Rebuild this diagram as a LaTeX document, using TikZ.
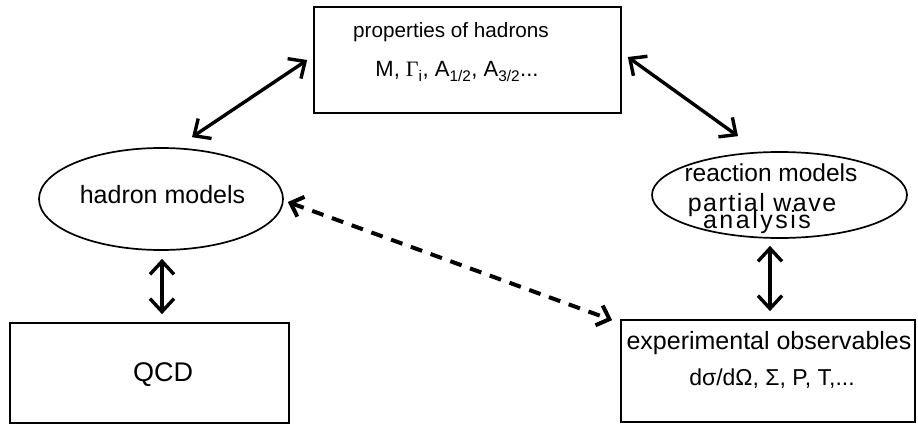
\documentclass[tikz,border=0pt]{standalone}
\usepackage{fontspec}
\setmainfont{Liberation Sans}
\newfontfamily\serifgreek{Liberation Serif}
\usetikzlibrary{arrows.meta,shapes.geometric}
\begin{document}
\begin{tikzpicture}[x=1pt,y=-1pt,
  box/.style={draw,line width=1.7pt,rectangle,inner sep=0pt},
  oval/.style={draw,line width=1.7pt,ellipse,inner sep=0pt},
  txt/.style={inner sep=0pt,anchor=base},
  dbl/.style={line width=3.4pt,{Straight Barb[length=13pt,width=24pt]}-{Straight Barb[length=13pt,width=24pt]}},
  dsh/.style={line width=4pt,dash pattern=on 12pt off 9pt,{Straight Barb[length=11pt,width=21pt]}-{Straight Barb[length=11pt,width=21pt]}}
]
\useasboundingbox (0,0) rectangle (918,425);
% shapes
\node[box,minimum width=307pt,minimum height=106pt] (props) at (467.5,60) {};
\node[oval,minimum width=244pt,minimum height=102pt] (hm) at (161,199) {};
\node[oval,minimum width=255pt,minimum height=86pt] (rm) at (779.5,195) {};
\node[box,minimum width=279pt,minimum height=100pt] (qcd) at (149.5,373) {};
\node[box,minimum width=294pt,minimum height=102pt] (exp) at (768,371) {};
% texts
\node[txt,font=\fontsize{20.7}{24}\selectfont] (propsA) at (451,38) {properties of hadrons};
\node[txt,font=\fontsize{22}{26}\selectfont] (propsB) at (457,77) {M, {\serifgreek Γ}\textsubscript{i}, A\textsubscript{1/2}, A\textsubscript{3/2}...};
\node[txt,font=\fontsize{25}{30}\selectfont] (hmA) at (162.5,203.5) {hadron models};
\node[txt,font=\fontsize{27}{32}\selectfont] (qcdA) at (163,381.5) {QCD};
\node[txt,font=\fontsize{24.5}{30}\selectfont] (rmA) at (771,181) {reaction models};
\node[txt,font=\fontsize{25}{30}\selectfont\addfontfeatures{LetterSpace=6}] (rmB) at (762,211.5) {partial wave};
\node[txt,font=\fontsize{25}{30}\selectfont\addfontfeatures{LetterSpace=10}] (rmC) at (757,228) {analysis};
\node[txt,font=\fontsize{25}{30}\selectfont] (expA) at (769,349.5) {experimental observables};
\node[txt,font=\fontsize{23}{28}\selectfont] (expB) at (772,385) {dσ/dΩ, Σ, P, T,...};
% connectors
\draw[dbl] ([shift={(31,-10)}]hm.north) -- ([shift={(-6,0)}]props.west);
\draw[dbl] ([shift={(6,-3)}]props.east) -- ([shift={(-41.5,-15)}]rm.north);
\draw[dbl] ([shift={(1,8)}]hm.south) -- ([shift={(12.5,-8)}]qcd.north);
\draw[dbl] ([shift={(2,-8)}]exp.north) -- ([shift={(-9.5,7)}]rm.south);
\draw[dsh] ([shift={(4,3)}]hm.east) -- ([shift={(-8,1)}]exp.north west);
\end{tikzpicture}
\end{document}
